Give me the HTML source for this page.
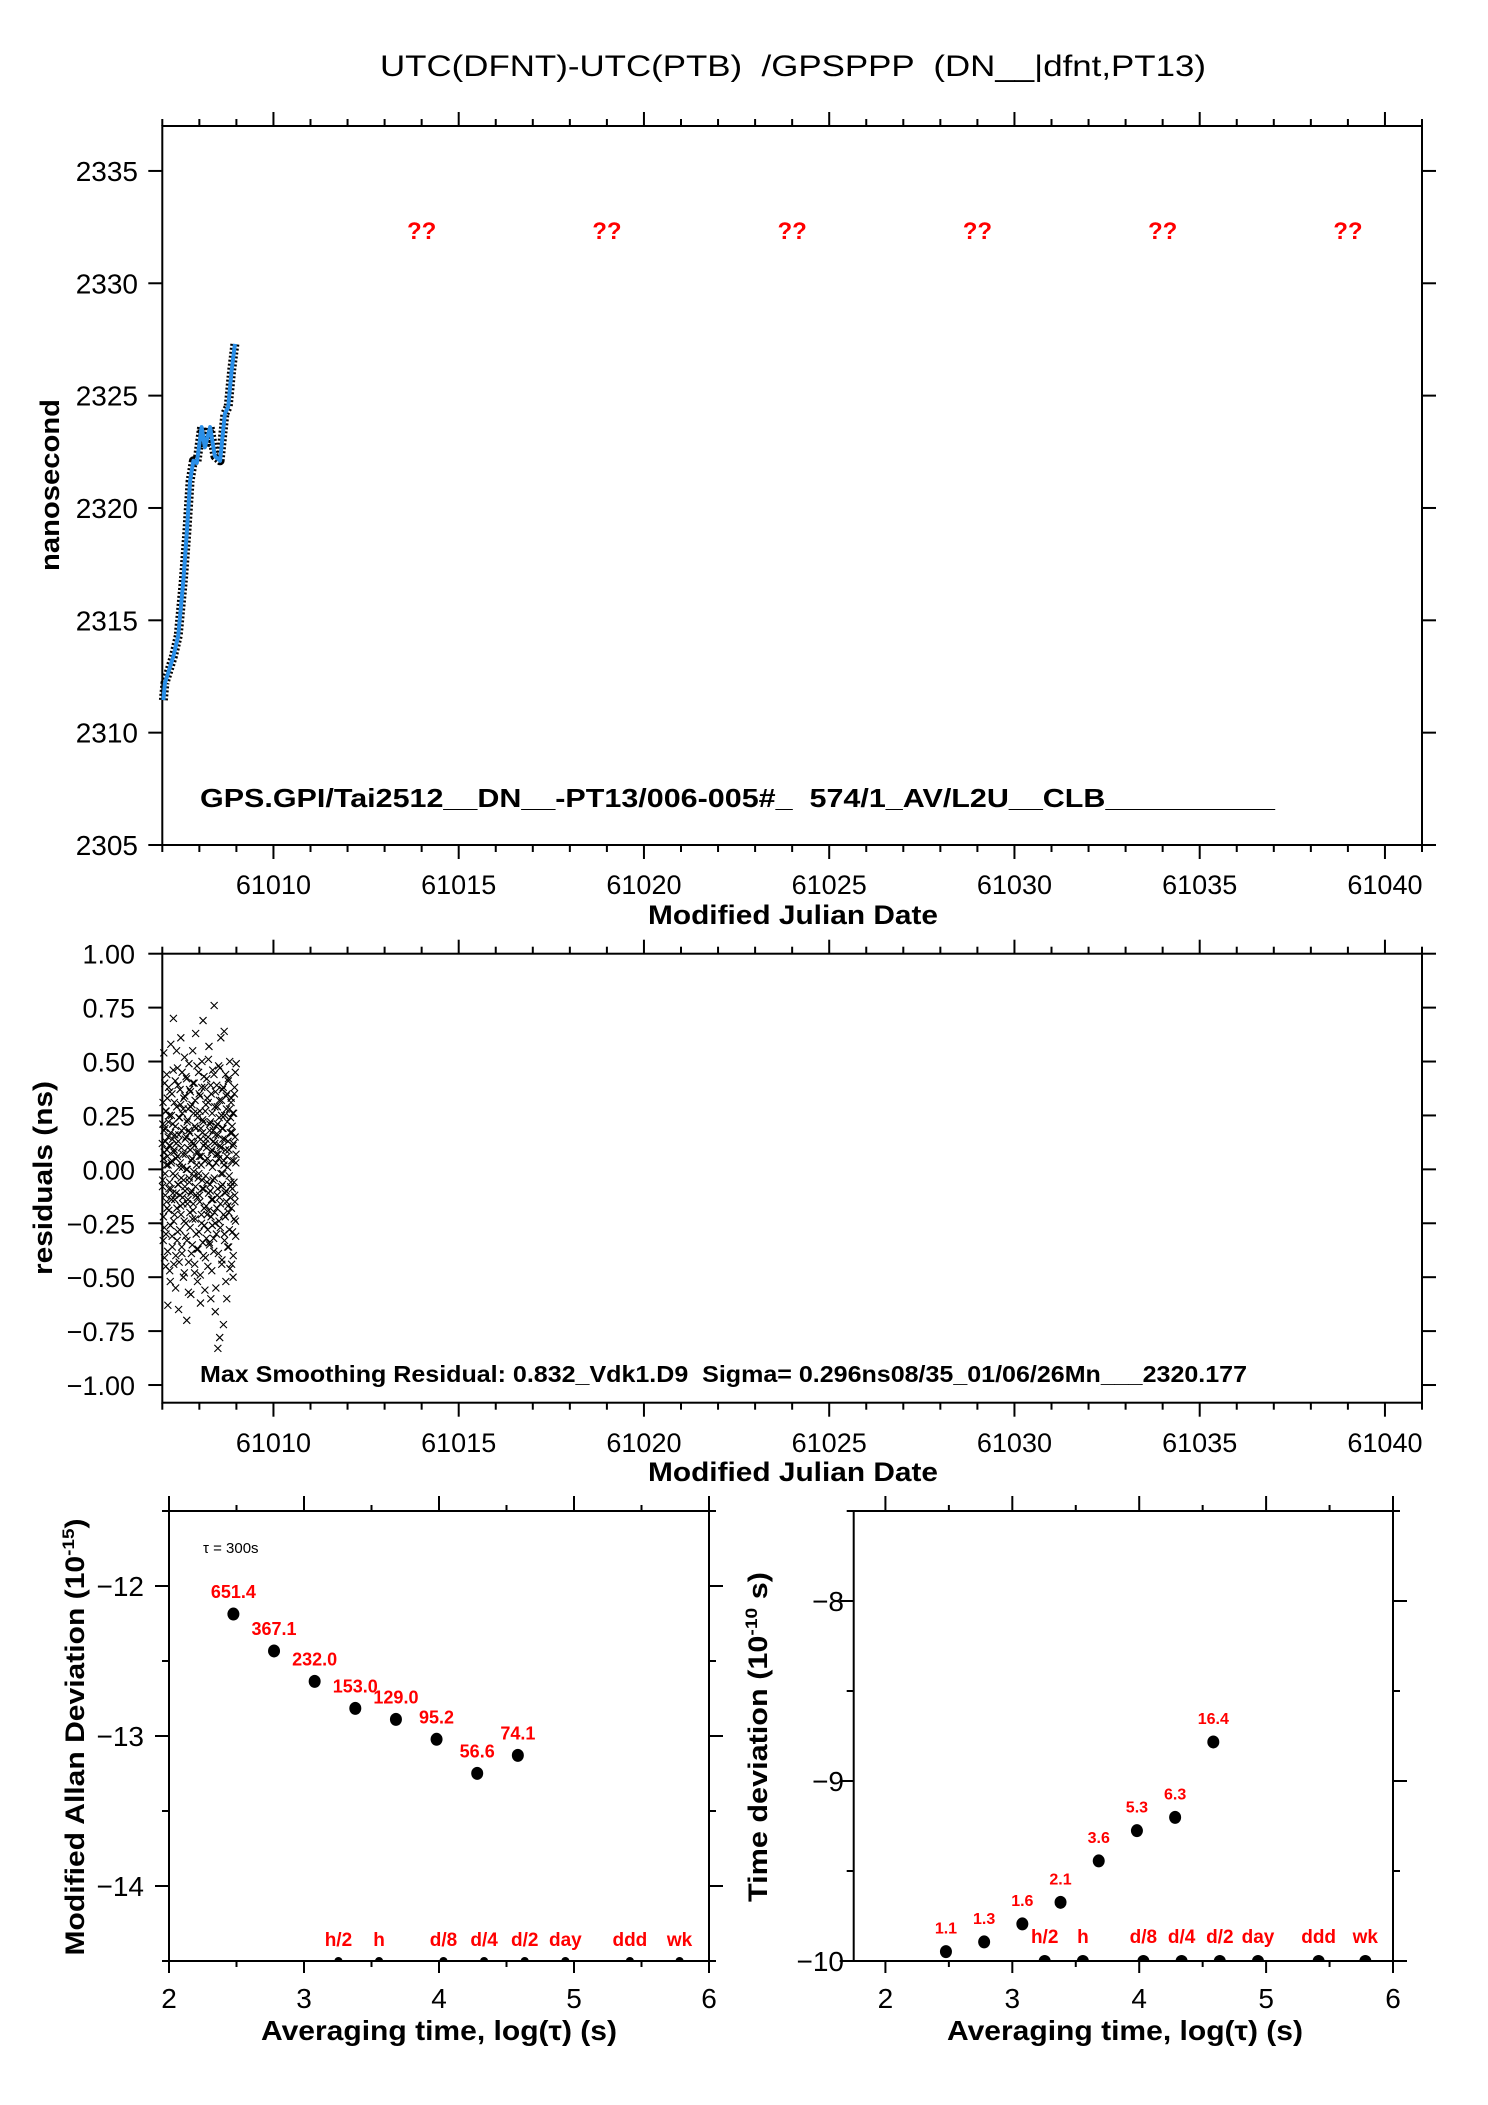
<!DOCTYPE html>
<html><head><meta charset="utf-8">
<style>
html,body{margin:0;padding:0;background:#fff;}
svg{display:block;font-family:"Liberation Sans",Arial,sans-serif;}
svg text{white-space:pre;}
</style></head>
<body>
<svg id="chart" width="1488" height="2105" viewBox="0 0 1488 2105" xmlns="http://www.w3.org/2000/svg" xml:space="preserve">
<rect x="0" y="0" width="1488" height="2105" fill="#fff"/>
<text x="793" y="76" text-anchor="middle" font-size="30" textLength="826" lengthAdjust="spacingAndGlyphs">UTC(DFNT)-UTC(PTB)  /GPSPPP  (DN__|dfnt,PT13)</text>
</svg>
<script>
// ---------- data ----------
const phaseMjd = [61007.03,61007.07,61007.30,61007.43,61007.57,61007.66,61007.75,61007.84,61007.93,61008.06,61008.15,61008.29,61008.42,61008.56,61008.69,61008.78,61008.87,61008.96];
const phaseNs  = [2311.45,2312.2,2313.4,2314.3,2316.8,2318.9,2321.2,2322.1,2322.0,2323.6,2322.7,2323.6,2322.3,2322.1,2324.2,2324.5,2326.1,2327.3];
const mjdTicks = [61010,61015,61020,61025,61030,61035,61040];
const nsTicks = [2305,2310,2315,2320,2325,2330,2335];
const unknownMjd = [61014,61019,61024,61029,61034,61039];
const resStart = 61007.0;
const resStepDays = 300/86400*2.88;
const residuals = [0.12,-0.05,0.31,-0.22,0.54,0.08,-0.41,0.19,-0.12,0.27,
-0.30,0.02,0.44,-0.18,0.06,-0.63,0.15,0.38,-0.09,0.25,
-0.47,0.11,-0.26,0.58,0.03,-0.14,0.35,-0.36,0.21,-0.02,
0.70,-0.44,0.09,-0.21,0.16,0.41,-0.55,0.05,-0.11,0.29,
-0.33,0.47,-0.07,0.13,-0.65,0.24,0.01,-0.28,0.37,-0.17,
0.61,-0.04,0.18,-0.39,0.26,-0.13,0.07,-0.50,0.33,-0.24,
0.52,-0.08,0.14,-0.31,0.43,0.00,-0.70,0.22,-0.16,0.10,
0.28,-0.43,0.49,-0.06,0.17,-0.27,0.36,-0.58,0.04,-0.10,
0.30,-0.35,0.55,-0.19,0.12,-0.01,0.40,-0.48,0.20,-0.23,
0.63,-0.12,0.08,-0.37,0.26,-0.52,0.15,-0.04,0.45,-0.29,
0.06,-0.15,0.34,-0.62,0.19,0.02,-0.25,0.50,-0.09,0.23,
0.69,-0.40,0.11,-0.18,0.38,-0.56,0.27,-0.03,0.14,-0.32,
0.42,-0.21,0.05,-0.45,0.31,-0.11,0.57,-0.34,0.18,-0.07,
0.22,-0.60,0.35,-0.14,0.09,-0.26,0.46,-0.05,0.13,-0.38,
0.76,-0.20,0.29,-0.66,0.16,0.03,-0.30,0.39,-0.12,0.21,
-0.83,0.07,0.48,-0.24,0.32,-0.78,0.11,-0.16,0.61,-0.08,
0.25,-0.42,0.37,-0.02,0.19,-0.72,0.04,0.64,-0.33,0.14,
-0.22,0.44,-0.10,0.28,-0.60,0.35,0.01,-0.17,0.41,-0.36,
0.09,-0.28,0.50,-0.13,0.24,-0.06,0.33,-0.44,0.17,-0.09,
0.26,-0.50,0.12,0.04,-0.23,0.38,-0.15,0.45,-0.31,0.07];
const residuals2 = [-0.08,0.21,-0.33,0.05,0.18,-0.27,0.40,-0.02,0.13,-0.45,
0.27,-0.15,0.09,0.33,-0.38,0.02,0.22,-0.19,0.11,-0.06,
0.36,-0.52,0.17,-0.09,0.25,0.04,-0.31,0.14,-0.11,0.46,
-0.24,0.08,0.31,-0.14,-0.03,0.20,-0.40,0.12,0.55,-0.18,
0.06,-0.29,0.39,-0.07,0.16,-0.43,0.24,-0.12,0.03,0.30,
-0.21,0.10,-0.36,0.45,0.01,-0.16,0.28,-0.05,0.19,-0.48,
0.34,-0.10,0.07,-0.25,0.15,0.42,-0.33,0.00,0.23,-0.14,
-0.57,0.18,-0.04,0.37,-0.20,0.09,0.29,-0.11,-0.39,0.13,
0.05,-0.23,0.40,-0.16,0.26,-0.03,0.11,-0.44,0.32,-0.08,
0.19,-0.30,0.02,0.48,-0.13,0.24,-0.37,0.08,-0.02,0.35,
-0.12,0.27,-0.49,0.14,0.06,-0.21,0.38,-0.05,0.17,-0.34,
0.22,-0.09,0.43,-0.26,0.04,0.12,-0.41,0.30,-0.17,0.10,
-0.06,0.33,-0.28,0.15,0.51,-0.19,0.03,-0.35,0.21,-0.10,
0.39,-0.22,0.08,-0.47,0.26,0.01,-0.14,0.18,-0.32,0.44,
-0.04,0.12,-0.25,0.36,-0.55,0.20,0.07,-0.18,0.29,-0.09,
0.16,-0.39,0.05,0.24,-0.13,0.47,-0.27,0.10,-0.02,0.32,
-0.44,0.19,-0.07,0.14,0.38,-0.21,0.02,-0.30,0.25,-0.11,
0.09,-0.52,0.34,-0.15,0.06,0.22,-0.36,0.13,0.42,-0.20,
-0.03,0.28,-0.46,0.17,-0.08,0.31,-0.18,0.04,0.20,-0.29,
0.11,-0.40,0.26,-0.06,0.35,-0.12,0.15,-0.24,0.03,0.49];
const resTicks = [1.00,0.75,0.50,0.25,0.00,-0.25,-0.50,-0.75,-1.00];
const logTau = [2.477,2.778,3.079,3.380,3.681,3.982,4.283,4.584];
const madevLog = [-12.187,-12.433,-12.636,-12.816,-12.889,-13.022,-13.249,-13.129];
const madevLabels = ["651.4","367.1","232.0","153.0","129.0","95.2","56.6","74.1"];
const tdevLog = [-9.948,-9.894,-9.794,-9.674,-9.444,-9.276,-9.202,-8.783];
const tdevLabels = ["1.1","1.3","1.6","2.1","3.6","5.3","6.3","16.4"];
const markerLog = [3.255,3.556,4.033,4.334,4.635,4.936,5.414,5.782];
const markerLabels = ["h/2","h","d/8","d/4","d/2","day","ddd","wk"];
const logTicks = [2,3,4,5,6];
const madevTicks = [-12,-13,-14];
const tdevTicks = [-8,-9,-10];

// ---------- helpers ----------
const NS = "http://www.w3.org/2000/svg";
const svg = document.getElementById('chart');
function mk(tag, attrs, name, parent){
  const el = document.createElementNS(NS, tag);
  for (const k in attrs) el.setAttribute(k, attrs[k]);
  
  
  (parent||svg).appendChild(el);
  return el;
}
function txt(s, x, y, size, name, opt){
  opt = opt||{};
  const el = mk('text', {x:x, y:y, 'font-size':size, 'text-anchor':opt.anchor||'start',
    'font-weight':opt.bold?'bold':'normal', fill:opt.fill||'#000'}, name, opt.parent);
  if (opt.len){ el.setAttribute('textLength', opt.len); el.setAttribute('lengthAdjust','spacingAndGlyphs'); }
  if (opt.rot){ el.setAttribute('transform', 'rotate(-90 '+x+' '+y+')'); }
  el.textContent = s;
  return el;
}
function line(x1,y1,x2,y2,name,w,col){
  return mk('line',{x1:x1,y1:y1,x2:x2,y2:y2,stroke:col||'#000','stroke-width':w||2},name);
}
function scale(d0,d1,p0,p1){ return v => p0 + (v-d0)/(d1-d0)*(p1-p0); }
function frame(L,T,R,B,name){
  mk('rect',{x:L,y:T,width:R-L,height:B-T,fill:'none',stroke:'#000','stroke-width':2},name);
}

// ---------- top plot ----------
(function(){
  const L=162.3,R=1422,T=126,B=845;
  const X=scale(61007,61041,L,R), Y=scale(2305,2337,B,T);
  frame(L,T,R,B,'phase-plot-frame');
  for(let m=61007;m<=61041;m++){
    const maj = m%5===0;
    line(X(m),T,X(m),T-(maj?14:7),'phase-top-tick');
    line(X(m),B,X(m),B+(maj?14:7),'phase-bottom-tick');
  }
  nsTicks.forEach(v=>{
    line(L-14,Y(v),L,Y(v),'phase-y-tick');
    line(R,Y(v),R+14,Y(v),'phase-right-tick');
    txt(String(v),138,Y(v)+10,28,'phase-y-tick-label',{anchor:'end'});
  });
  mjdTicks.forEach(m=>txt(String(m),X(m),894,27,'phase-x-tick-label',{anchor:'middle'}));
  txt('Modified Julian Date',793,924,27,'phase-x-axis-title',{anchor:'middle',bold:true,len:290});
  txt('nanosecond',59,485,27,'phase-y-axis-title',{anchor:'middle',bold:true,rot:true,len:172});
  unknownMjd.forEach(m=>txt('??',X(m),239,24,'unknown-marker',{anchor:'middle',bold:true,fill:'#ff0000'}));
  txt('GPS.GPI/Tai2512__DN__-PT13/006-005#_  574/1_AV/L2U__CLB__________',200,807,26,'phase-info-text',{bold:true,len:1075});
  const pts = phaseMjd.map((m,i)=>X(m).toFixed(1)+','+Y(phaseNs[i]).toFixed(1)).join(' ');
  mk('polyline',{points:pts,fill:'none',stroke:'#000','stroke-width':9,'stroke-dasharray':'2 2','stroke-linejoin':'round'},'phase-raw-points');
  mk('polyline',{points:pts,fill:'none',stroke:'#2a8fe8','stroke-width':4,'stroke-linejoin':'round'},'phase-smoothed-line');
})();

// ---------- residual plot ----------
(function(){
  const L=162.3,R=1422,T=953.7,B=1402.7;
  const X=scale(61007,61041,L,R), Y=scale(-1.082,1.0,B,T);
  frame(L,T,R,B,'residual-plot-frame');
  for(let m=61007;m<=61041;m++){
    const maj = m%5===0;
    line(X(m),T,X(m),T-(maj?14:7),'residual-top-tick');
    line(X(m),B,X(m),B+(maj?14:7),'residual-bottom-tick');
  }
  resTicks.forEach(v=>{
    line(L-14,Y(v),L,Y(v),'residual-y-tick');
    line(R,Y(v),R+14,Y(v),'residual-right-tick');
    const s=(v<0?'\u2212':'')+Math.abs(v).toFixed(2);
    txt(s,135,Y(v)+10,27,'residual-y-tick-label',{anchor:'end'});
  });
  mjdTicks.forEach(m=>txt(String(m),X(m),1452,27,'residual-x-tick-label',{anchor:'middle'}));
  txt('Modified Julian Date',793,1481,27,'residual-x-axis-title',{anchor:'middle',bold:true,len:290});
  txt('residuals (ns)',52,1178,27,'residual-y-axis-title',{anchor:'middle',bold:true,rot:true,len:194});
  txt('Max Smoothing Residual: 0.832_Vdk1.D9  Sigma= 0.296ns08/35_01/06/26Mn___2320.177',200,1382,23,'residual-info-text',{bold:true,len:1047});
  const g = mk('g',{stroke:'#000','stroke-width':1.1},'residual-points');
  function drawSet(arr, offset){
    arr.forEach((r,i)=>{
      const cx=X(resStart+(i+offset)*resStepDays), cy=Y(r);
      mk('path',{d:`M${cx-3.5},${cy-3.5}L${cx+3.5},${cy+3.5}M${cx+3.5},${cy-3.5}L${cx-3.5},${cy+3.5}`},'residual-point',g);
    });
  }
  drawSet(residuals,0);
  drawSet(residuals2,0.5);
})();

// ---------- stability plots ----------
function stabPlot(cfg){
  const {L,R,T,B,x0,x1,y0,y1,prefix}=cfg;
  const X=scale(x0,x1,L,R), Y=scale(y0,y1,B,T);
  frame(L,T,R,B,prefix+'-frame');
  for(let v=2;v<=6;v+=0.5){
    const maj = Number.isInteger(v);
    line(X(v),T,X(v),T-(maj?15:6),prefix+'-top-tick');
    line(X(v),B,X(v),B+(maj?12:6),prefix+'-bottom-tick');
  }
  for(let v=Math.ceil(y0*2)/2; v<=y1+1e-9; v+=0.5){
    const maj = Number.isInteger(v);
    line(L-(maj?14:7),Y(v),L,Y(v),prefix+'-y-tick');
    line(R,Y(v),R+(maj?14:7),Y(v),prefix+'-right-tick');
  }
  cfg.yTicks.forEach(v=>txt('\u2212'+Math.abs(v),cfg.labRight,Y(v)+10,28,prefix+'-y-tick-label',{anchor:'end'}));
  logTicks.forEach(v=>txt(String(v),X(v),2008,28,prefix+'-x-tick-label',{anchor:'middle'}));
  txt('Averaging time, log(\u03c4) (s)',cfg.xtX,2040,28,prefix+'-x-axis-title',{anchor:'middle',bold:true,len:356});
  const clip = mk('clipPath',{id:prefix+'-clip'},prefix+'-clip');
  mk('rect',{x:L,y:T,width:R-L,height:B-T},prefix+'-clip-rect',clip);
  const gm = mk('g',{'clip-path':'url(#'+prefix+'-clip)'},prefix+'-markers');
  markerLog.forEach((v,i)=>{
    mk('circle',{cx:X(v),cy:B,r:cfg.mr,fill:'#000'},prefix+'-interval-marker',gm);
    txt(markerLabels[i],X(v),cfg.mlY,cfg.mlSize,prefix+'-interval-label',{anchor:'middle',bold:true,fill:'#ff0000'});
  });
  logTau.forEach((v,i)=>{
    mk('ellipse',{cx:X(v),cy:Y(cfg.vals[i]),rx:6,ry:6.5,fill:'#000'},prefix+'-point');
    txt(cfg.labels[i],X(v),Y(cfg.vals[i])-cfg.lOff,cfg.lSize,prefix+'-value-label',{anchor:'middle',bold:true,fill:'#ff0000'});
  });
  return {X,Y};
}
stabPlot({L:169,R:709,T:1511,B:1961,x0:2,x1:6,y0:-14.5,y1:-11.5,prefix:'madev',
  yTicks:madevTicks,labRight:144,xtX:439,vals:madevLog,labels:madevLabels,lOff:16,lSize:18,mr:4,mlY:1946,mlSize:19});
stabPlot({L:853.7,R:1393,T:1511,B:1961,x0:1.75,x1:6,y0:-10,y1:-7.5,prefix:'tdev',
  yTicks:tdevTicks,labRight:844,xtX:1125,vals:tdevLog,labels:tdevLabels,lOff:18,lSize:16,mr:6,mlY:1943,mlSize:19});

(function(){
  const t1 = mk('text',{x:84,y:1737,'font-size':27,'font-weight':'bold','text-anchor':'middle',transform:'rotate(-90 84 1737)',textLength:437,lengthAdjust:'spacingAndGlyphs'},'madev-y-axis-title');
  t1.innerHTML = 'Modified Allan Deviation (10<tspan dy="-10" font-size="17">-15</tspan><tspan dy="10">)</tspan>';
  const t2 = mk('text',{x:767,y:1737,'font-size':27,'font-weight':'bold','text-anchor':'middle',transform:'rotate(-90 767 1737)',textLength:330,lengthAdjust:'spacingAndGlyphs'},'tdev-y-axis-title');
  t2.innerHTML = 'Time deviation (10<tspan dy="-10" font-size="17">-10</tspan><tspan dy="10"> s)</tspan>';
  const tau = mk('text',{x:203,y:1553,'font-size':15,'font-weight':'normal'},'tau0-note');
  tau.textContent = '\u03c4 = 300s';
})();
</script>
</body></html>
